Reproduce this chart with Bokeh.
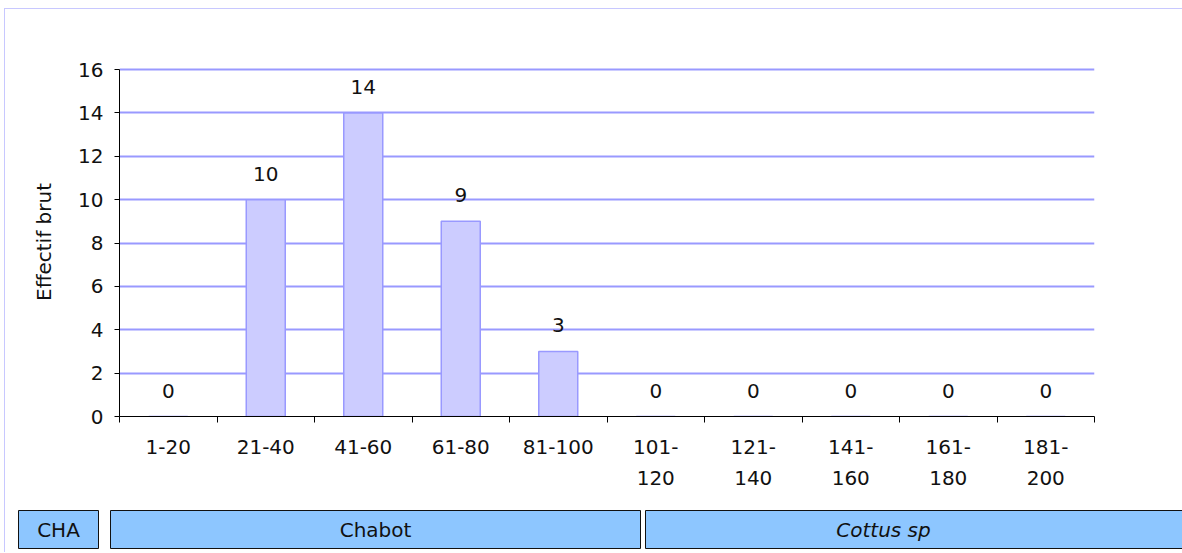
from bokeh.plotting import figure
from bokeh.models import Range1d, FixedTicker, LinearAxis
from bokeh.layouts import column, row
from bokeh.embed import file_html
from bokeh.resources import INLINE
from bokeh.core.properties import value

# ---- data ----
classes_line1 = ["1-20", "21-40", "41-60", "61-80", "81-100", "101-", "121-", "141-", "161-", "181-"]
classes_line2 = ["", "", "", "", "", "120", "140", "160", "180", "200"]
effectifs = [0, 10, 14, 9, 3, 0, 0, 0, 0, 0]
y_ticks = [0, 2, 4, 6, 8, 10, 12, 14, 16]
y_label = "Effectif brut"
species_code = "CHA"
species_name = "Chabot"
species_latin = "Cottus sp"

FONT = "DejaVu Sans"
TXT = "#111111"
FS = "20px"

n = len(classes_line1)
centers = [i + 0.5 for i in range(n)]
bounds = list(range(n + 1))
y_max = max(y_ticks)

W = 1177
p = figure(width=W, height=491, x_range=Range1d(0, n), y_range=Range1d(0, y_max * 349 / 347),
           output_backend="svg", toolbar_location=None,
           min_border_left=114, min_border_right=88, min_border_top=58, min_border_bottom=84)
p.outline_line_color = None
p.background_fill_color = "white"
p.border_fill_color = "white"
p.xgrid.visible = False
p.ygrid.ticker = FixedTicker(ticks=y_ticks)
p.ygrid.grid_line_color = "#9999FF"
p.ygrid.grid_line_width = 2

p.vbar(x=centers, top=effectifs, width=0.4, bottom=0,
       fill_color="#CCCCFF", line_color="#9999FF", line_width=1.5)

p.text(x=centers, y=effectifs, text=[str(v) for v in effectifs],
       text_align="center", text_baseline="middle", y_offset=-26,
       text_font=value(FONT), text_font_size=FS, text_color=TXT)

# y axis
ya = p.yaxis[0]
ya.ticker = FixedTicker(ticks=y_ticks)
ya.bounds = (0, y_max)
ya.major_tick_out = 5
ya.major_tick_in = 0
ya.minor_tick_line_color = None
ya.axis_line_color = "black"
ya.major_tick_line_color = "black"
ya.major_label_standoff = 11
ya.major_label_text_font = FONT
ya.major_label_text_font_size = FS
ya.major_label_text_color = TXT
ya.axis_label = y_label
ya.axis_label_text_font = FONT
ya.axis_label_text_font_size = FS
ya.axis_label_text_font_style = "normal"
ya.axis_label_text_color = TXT
ya.axis_label_standoff = 19

# x axis (first line of labels, ticks at class boundaries)
xa = p.xaxis[0]
xa.ticker = FixedTicker(ticks=centers, minor_ticks=bounds)
xa.major_tick_out = 0
xa.major_tick_in = 0
xa.minor_tick_out = 6
xa.minor_tick_in = 0
xa.minor_tick_line_color = "black"
xa.axis_line_color = "black"
xa.major_label_overrides = {c: l for c, l in zip(centers, classes_line1)}
xa.major_label_standoff = 17
xa.major_label_text_font = FONT
xa.major_label_text_font_size = FS
xa.major_label_text_color = TXT

# second line of labels
xa2 = LinearAxis(ticker=FixedTicker(ticks=centers),
                 major_label_overrides={c: (l if l else " ") for c, l in zip(centers, classes_line2)},
                 axis_line_color=None, major_tick_line_color=None, minor_tick_line_color=None,
                 major_label_standoff=3, major_label_text_font=FONT,
                 major_label_text_font_size=FS, major_label_text_color=TXT)
p.add_layout(xa2, "below")

# bottom band with species boxes
H2 = 52
q = figure(width=W, height=H2, x_range=Range1d(0, W), y_range=Range1d(0, H2),
           output_backend="svg", toolbar_location=None, min_border=0,
           min_border_left=0, min_border_right=0, min_border_top=0, min_border_bottom=0)
q.axis.visible = False
q.grid.visible = False
q.outline_line_color = None
q.quad(left=[13, 105, 640], right=[93, 635, W + 2], bottom=[4, 4, 4], top=[42, 42, 42],
       fill_color="#8DC6FF", line_color="#111111", line_width=1)
q.text(x=[53, 370], y=[23, 23], text=[species_code, species_name],
       text_align="center", text_baseline="middle",
       text_font=value(FONT), text_font_size=FS, text_color=TXT)
q.text(x=[878], y=[23], text=[species_latin],
       text_align="center", text_baseline="middle", text_font_style="italic",
       text_font=value(FONT), text_font_size=FS, text_color=TXT)

layout = column(p, row(q), spacing=0,
                styles={"border-top": "1px solid #C8C8FF", "border-left": "1px solid #C8C8FF",
                        "margin-left": "4px", "margin-top": "8px"})

open("out.html", "w").write(file_html(layout, INLINE))
